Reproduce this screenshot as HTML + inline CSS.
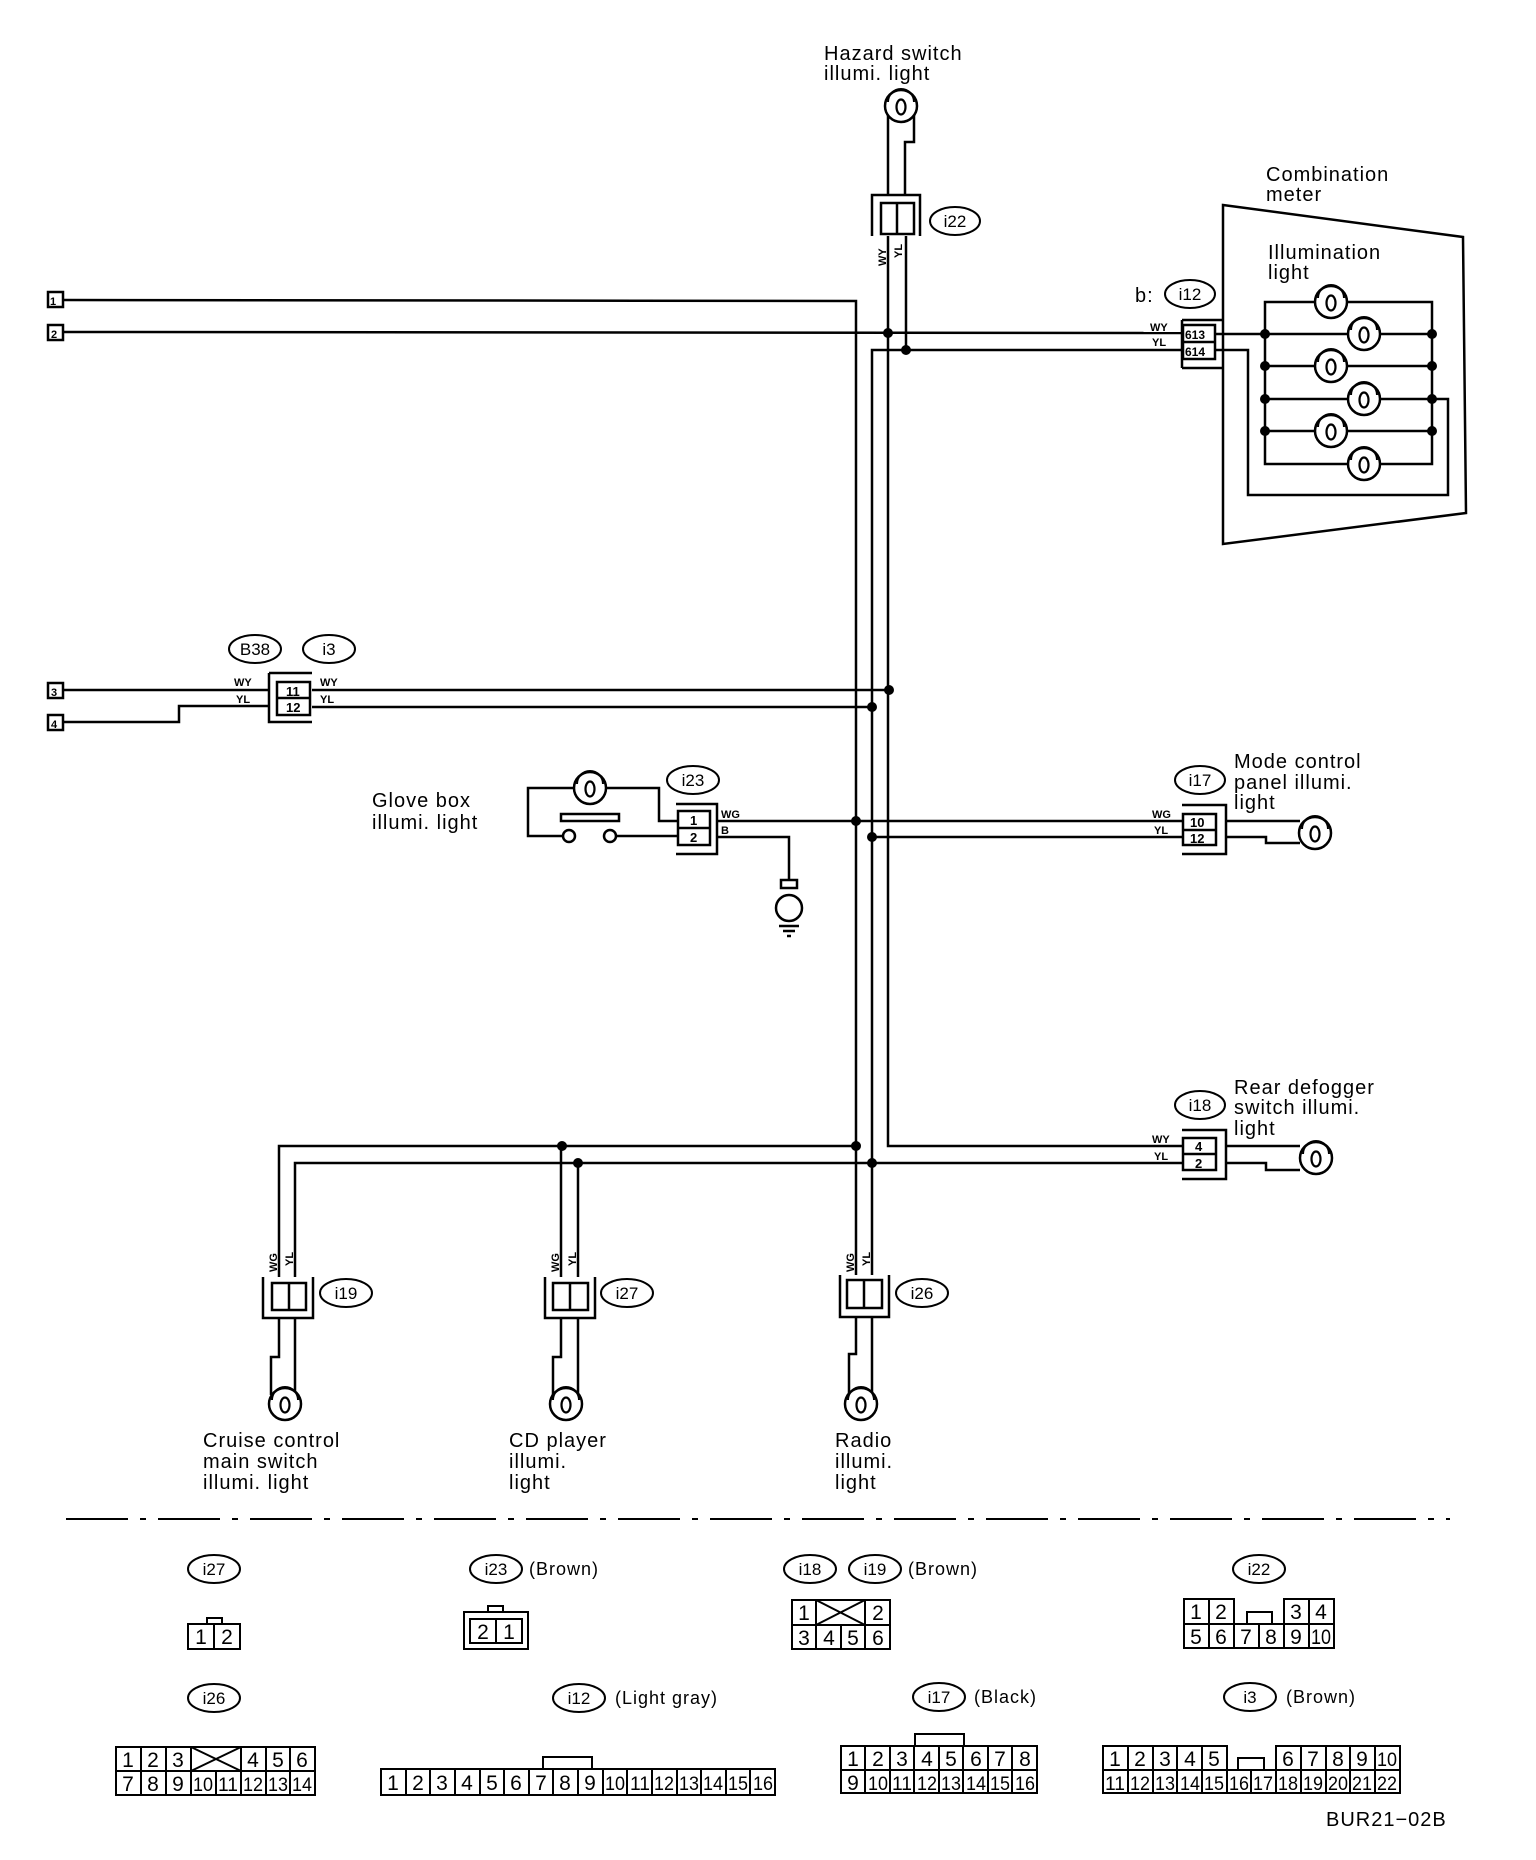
<!DOCTYPE html>
<html><head><meta charset="utf-8"><style>
html,body{margin:0;padding:0;background:#fff;}
svg{display:block}
text{font-family:"Liberation Sans",sans-serif;fill:#000}
.t{font-size:20px;letter-spacing:1px}
.s{font-size:11px;font-weight:bold}
.c{font-size:17px;text-anchor:middle}
.g{font-size:21px;text-anchor:middle}
</style></head><body>
<svg width="1536" height="1860" viewBox="0 0 1536 1860" xmlns="http://www.w3.org/2000/svg">
<defs>
<symbol id="b" overflow="visible">
<circle cx="0" cy="0" r="16" fill="#fff" stroke="#000" stroke-width="2.5"/>
<path d="M-13,-4 A13,13 0 0 1 13,-4" fill="none" stroke="#000" stroke-width="2"/>
<ellipse cx="0" cy="1" rx="4.5" ry="7.5" fill="none" stroke="#000" stroke-width="2.2"/>
</symbol>
</defs>
<g fill="none" stroke="#000" stroke-width="2.5">
<!-- terminals -->
<rect x="48" y="292" width="15" height="15"/><rect x="48" y="325" width="15" height="15"/>
<rect x="48" y="683" width="15" height="15"/><rect x="48" y="715" width="15" height="15"/>
<!-- main wires -->
<polyline points="63,300 856,301 856,1275"/>
<polyline points="63,332 1182,333"/>
<polyline points="1182,350 872,350 872,1275"/>
<polyline points="888,236 888,1146 1182,1146"/>
<polyline points="906,236 906,350"/>
<!-- hazard -->
<polyline points="888,195 888,106"/>
<polyline points="914,106 914,142 905,142 905,195"/>
<polyline points="872,236 872,195 920,195 920,236"/>
<rect x="881" y="203" width="33" height="31"/><line x1="897" y1="203" x2="897" y2="234"/>
<!-- i3 -->
<polyline points="63,690 269,690"/>
<polyline points="63,722 179,722 179,706 269,706"/>
<polyline points="312,690 889,690"/>
<polyline points="312,707 872,707"/>
<polyline points="269,673 312,673"/><polyline points="269,673 269,722 312,722"/>
<rect x="277" y="682" width="33" height="33"/><line x1="277" y1="698" x2="310" y2="698"/>
<!-- glove box -->
<polyline points="574,788 528,788 528,836 563,836"/>
<polyline points="606,788 659,788 659,821 678,821"/>
<polyline points="616,836 678,836"/>
<rect x="561" y="814" width="58" height="7"/>
<circle cx="569" cy="836" r="6"/><circle cx="610" cy="836" r="6"/>
<polyline points="676,804 717,804 717,854 676,854"/>
<rect x="678" y="811" width="32" height="34"/><line x1="678" y1="828" x2="710" y2="828"/>
<polyline points="717,821 1182,821"/>
<polyline points="717,837 789,837 789,880"/>
<polyline points="872,837 1182,837"/>
<rect x="781" y="880" width="16" height="8"/>
<circle cx="789" cy="908" r="13" fill="#fff"/>
<line x1="779" y1="926" x2="799" y2="926"/><line x1="783" y1="931" x2="795" y2="931"/><line x1="787" y1="936" x2="791" y2="936"/>
<!-- i17 -->
<polyline points="1182,805 1226,805 1226,854 1182,854"/>
<rect x="1183" y="814" width="33" height="31"/><line x1="1183" y1="830" x2="1216" y2="830"/>
<polyline points="1226,821 1300,821"/>
<polyline points="1226,837 1266,837 1266,843 1300,843"/>
<!-- i18 -->
<polyline points="1182,1130 1226,1130 1226,1179 1182,1179"/>
<rect x="1183" y="1138" width="33" height="32"/><line x1="1183" y1="1154" x2="1216" y2="1154"/>
<polyline points="1226,1146 1300,1146"/>
<polyline points="1226,1163 1266,1163 1266,1170 1300,1170"/>
<!-- lower -->
<polyline points="856,1146 279,1146 279,1277"/>
<polyline points="1182,1163 295,1163 295,1277"/>
<line x1="561" y1="1146" x2="561" y2="1277"/>
<line x1="578" y1="1163" x2="578" y2="1277"/>
<!-- i19 -->
<polyline points="263,1277 263,1318 313,1318 313,1277"/>
<rect x="272" y="1283" width="34" height="27"/><line x1="289" y1="1283" x2="289" y2="1310"/>
<polyline points="279,1318 279,1357 271,1357 271,1395"/><polyline points="295,1318 295,1400"/>
<!-- i27 -->
<polyline points="545,1277 545,1318 595,1318 595,1277"/>
<rect x="553" y="1283" width="35" height="27"/><line x1="570" y1="1283" x2="570" y2="1310"/>
<polyline points="561,1318 561,1357 553,1357 553,1395"/><polyline points="578,1318 578,1400"/>
<!-- i26 -->
<polyline points="840,1275 840,1317 889,1317 889,1275"/>
<rect x="847" y="1280" width="35" height="28"/><line x1="864" y1="1280" x2="864" y2="1308"/>
<polyline points="856,1317 856,1354 849,1354 849,1395"/><polyline points="872,1317 872,1400"/>
<!-- i12 / meter -->
<polyline points="1182,320 1223,320"/><polyline points="1182,368 1223,368"/>
<line x1="1182" y1="320" x2="1182" y2="368"/>
<rect x="1183" y="325" width="32" height="34"/><line x1="1183" y1="342" x2="1215" y2="342"/>
<polygon points="1223,205 1463,237 1466,513 1223,544"/>
<polyline points="1215,334 1265,334"/>
<polyline points="1215,350 1248,350 1248,495 1448,495 1448,399 1432,399"/>
<rect x="1265" y="302" width="167" height="162"/>
<line x1="1265" y1="334" x2="1432" y2="334"/><line x1="1265" y1="366" x2="1432" y2="366"/>
<line x1="1265" y1="399" x2="1432" y2="399"/><line x1="1265" y1="431" x2="1432" y2="431"/>
<!-- dashed -->
<line x1="66" y1="1519" x2="1450" y2="1519" stroke-dasharray="62 12 6 12" stroke-width="2"/>
</g>
<!-- dots -->
<g fill="#000">
<circle cx="888" cy="333" r="5"/><circle cx="906" cy="350" r="5"/>
<circle cx="889" cy="690" r="5"/><circle cx="872" cy="707" r="5"/>
<circle cx="856" cy="821" r="5"/><circle cx="872" cy="837" r="5"/>
<circle cx="856" cy="1146" r="5"/><circle cx="872" cy="1163" r="5"/>
<circle cx="562" cy="1146" r="5"/><circle cx="578" cy="1163" r="5"/>
<circle cx="1265" cy="334" r="5"/><circle cx="1265" cy="366" r="5"/><circle cx="1265" cy="399" r="5"/><circle cx="1265" cy="431" r="5"/>
<circle cx="1432" cy="334" r="5"/><circle cx="1432" cy="366" r="5"/><circle cx="1432" cy="399" r="5"/><circle cx="1432" cy="431" r="5"/>
</g>
<!-- bulbs -->
<use href="#b" x="901" y="106"/><use href="#b" x="590" y="788"/>
<use href="#b" x="1315" y="833"/><use href="#b" x="1316" y="1158"/>
<use href="#b" x="285" y="1404"/><use href="#b" x="566" y="1404"/><use href="#b" x="861" y="1404"/>
<use href="#b" x="1331" y="302"/><use href="#b" x="1364" y="334"/><use href="#b" x="1331" y="366"/>
<use href="#b" x="1364" y="399"/><use href="#b" x="1331" y="431"/><use href="#b" x="1364" y="464"/>
<!-- ellipse labels -->
<g fill="#fff" stroke="#000" stroke-width="2">
<ellipse cx="955" cy="221" rx="25" ry="14"/><ellipse cx="1190" cy="294" rx="25" ry="14"/>
<ellipse cx="255" cy="649" rx="26" ry="14"/><ellipse cx="329" cy="649" rx="26" ry="14"/>
<ellipse cx="693" cy="780" rx="26" ry="14"/><ellipse cx="1200" cy="780" rx="25" ry="14"/>
<ellipse cx="1200" cy="1105" rx="25" ry="14"/><ellipse cx="346" cy="1293" rx="26" ry="14"/>
<ellipse cx="627" cy="1293" rx="26" ry="14"/><ellipse cx="922" cy="1293" rx="26" ry="14"/>
<ellipse cx="214" cy="1569" rx="26" ry="14"/><ellipse cx="496" cy="1569" rx="26" ry="14"/>
<ellipse cx="810" cy="1569" rx="26" ry="14"/><ellipse cx="875" cy="1569" rx="26" ry="14"/>
<ellipse cx="1259" cy="1569" rx="26" ry="14"/><ellipse cx="214" cy="1698" rx="26" ry="14"/>
<ellipse cx="579" cy="1698" rx="26" ry="14"/><ellipse cx="939" cy="1697" rx="26" ry="14"/>
<ellipse cx="1250" cy="1697" rx="26" ry="14"/>
</g>
<g class="c">
<text x="955" y="227">i22</text><text x="1190" y="300">i12</text>
<text x="255" y="655">B38</text><text x="329" y="655">i3</text>
<text x="693" y="786">i23</text><text x="1200" y="786">i17</text>
<text x="1200" y="1111">i18</text><text x="346" y="1299">i19</text>
<text x="627" y="1299">i27</text><text x="922" y="1299">i26</text>
<text x="214" y="1575">i27</text><text x="496" y="1575">i23</text>
<text x="810" y="1575">i18</text><text x="875" y="1575">i19</text>
<text x="1259" y="1575">i22</text><text x="214" y="1704">i26</text>
<text x="579" y="1704">i12</text><text x="939" y="1703">i17</text>
<text x="1250" y="1703">i3</text>
</g>
<!-- main labels -->
<g class="t">
<text x="824" y="60">Hazard switch</text><text x="824" y="80">illumi. light</text>
<text x="1266" y="181">Combination</text><text x="1266" y="201">meter</text>
<text x="1268" y="259">Illumination</text><text x="1268" y="279">light</text>
<text x="1135" y="302">b:</text>
<text x="372" y="807">Glove box</text><text x="372" y="829">illumi. light</text>
<text x="1234" y="768">Mode control</text><text x="1234" y="789">panel illumi.</text><text x="1234" y="809">light</text>
<text x="1234" y="1094">Rear defogger</text><text x="1234" y="1114">switch illumi.</text><text x="1234" y="1135">light</text>
<text x="203" y="1447">Cruise control</text><text x="203" y="1468">main switch</text><text x="203" y="1489">illumi. light</text>
<text x="509" y="1447">CD player</text><text x="509" y="1468">illumi.</text><text x="509" y="1489">light</text>
<text x="835" y="1447">Radio</text><text x="835" y="1468">illumi.</text><text x="835" y="1489">light</text>
<text x="1326" y="1826">BUR21−02B</text>
<text x="529" y="1575" style="font-size:18px">(Brown)</text>
<text x="908" y="1575" style="font-size:18px">(Brown)</text>
<text x="615" y="1704" style="font-size:18px">(Light gray)</text>
<text x="974" y="1703" style="font-size:18px">(Black)</text>
<text x="1286" y="1703" style="font-size:18px">(Brown)</text>
</g>
<!-- small wire labels -->
<g class="s">
<text x="234" y="686">WY</text><text x="236" y="703">YL</text>
<text x="320" y="686">WY</text><text x="320" y="703">YL</text>
<text x="1150" y="331">WY</text><text x="1152" y="346">YL</text>
<text x="721" y="818">WG</text><text x="721" y="834">B</text>
<text x="1152" y="818">WG</text><text x="1154" y="834">YL</text>
<text x="1152" y="1143">WY</text><text x="1154" y="1160">YL</text>
<text transform="translate(886,266) rotate(-90)">WY</text><text transform="translate(902,258) rotate(-90)">YL</text>
<text transform="translate(277,1272) rotate(-90)">WG</text><text transform="translate(293,1266) rotate(-90)">YL</text>
<text transform="translate(559,1272) rotate(-90)">WG</text><text transform="translate(576,1266) rotate(-90)">YL</text>
<text transform="translate(854,1272) rotate(-90)">WG</text><text transform="translate(870,1266) rotate(-90)">YL</text>
<text x="50" y="305">1</text><text x="51" y="338">2</text><text x="51" y="696">3</text><text x="51" y="728">4</text>
<text x="286" y="696" style="font-size:13px">11</text><text x="286" y="712" style="font-size:13px">12</text>
<text x="690" y="825" style="font-size:13px">1</text><text x="690" y="842" style="font-size:13px">2</text>
<text x="1185" y="339" style="font-size:12px">613</text><text x="1185" y="356" style="font-size:12px">614</text>
<text x="1190" y="827" style="font-size:13px">10</text><text x="1190" y="843" style="font-size:13px">12</text>
<text x="1195" y="1151" style="font-size:13px">4</text><text x="1195" y="1168" style="font-size:13px">2</text>
</g>
<!-- connector diagrams -->
<g fill="none" stroke="#000" stroke-width="2">
<!-- i27 -->
<rect x="188" y="1624" width="52" height="25"/><line x1="214" y1="1624" x2="214" y2="1649"/><rect x="207" y="1618" width="15" height="6"/>
<!-- i23 -->
<rect x="464" y="1612" width="64" height="37"/><rect x="470" y="1619" width="52" height="24"/><line x1="496" y1="1619" x2="496" y2="1643"/><rect x="488" y="1606" width="15" height="6"/>
<!-- i18/i19 -->
<rect x="792" y="1600" width="98" height="49"/><line x1="792" y1="1625" x2="890" y2="1625"/>
<line x1="816" y1="1600" x2="816" y2="1649"/><line x1="841" y1="1625" x2="841" y2="1649"/><line x1="865" y1="1600" x2="865" y2="1649"/>
<line x1="816" y1="1600" x2="865" y2="1625"/><line x1="816" y1="1625" x2="865" y2="1600"/>
<!-- i22 -->
<rect x="1184" y="1599" width="50" height="25"/><line x1="1209" y1="1599" x2="1209" y2="1624"/>
<rect x="1284" y="1599" width="50" height="25"/><line x1="1309" y1="1599" x2="1309" y2="1624"/>
<rect x="1184" y="1624" width="150" height="24"/>
<line x1="1209" y1="1624" x2="1209" y2="1648"/><line x1="1234" y1="1624" x2="1234" y2="1648"/><line x1="1259" y1="1624" x2="1259" y2="1648"/><line x1="1284" y1="1624" x2="1284" y2="1648"/><line x1="1309" y1="1624" x2="1309" y2="1648"/>
<polyline points="1247,1624 1247,1612 1272,1612 1272,1624"/>
<!-- i26 -->
<rect x="116" y="1747" width="199" height="48"/><line x1="116" y1="1771" x2="315" y2="1771"/>
<line x1="141" y1="1747" x2="141" y2="1795"/><line x1="166" y1="1747" x2="166" y2="1795"/><line x1="191" y1="1747" x2="191" y2="1795"/>
<line x1="216" y1="1771" x2="216" y2="1795"/><line x1="241" y1="1747" x2="241" y2="1795"/><line x1="266" y1="1747" x2="266" y2="1795"/><line x1="290" y1="1747" x2="290" y2="1795"/>
<line x1="191" y1="1747" x2="241" y2="1771"/><line x1="191" y1="1771" x2="241" y2="1747"/>
<!-- i12 -->
<rect x="381" y="1769" width="394" height="26"/>
<line x1="406" y1="1769" x2="406" y2="1795"/><line x1="430" y1="1769" x2="430" y2="1795"/><line x1="455" y1="1769" x2="455" y2="1795"/><line x1="480" y1="1769" x2="480" y2="1795"/><line x1="504" y1="1769" x2="504" y2="1795"/><line x1="529" y1="1769" x2="529" y2="1795"/><line x1="553" y1="1769" x2="553" y2="1795"/><line x1="578" y1="1769" x2="578" y2="1795"/><line x1="603" y1="1769" x2="603" y2="1795"/><line x1="627" y1="1769" x2="627" y2="1795"/><line x1="652" y1="1769" x2="652" y2="1795"/><line x1="677" y1="1769" x2="677" y2="1795"/><line x1="701" y1="1769" x2="701" y2="1795"/><line x1="726" y1="1769" x2="726" y2="1795"/><line x1="750" y1="1769" x2="750" y2="1795"/>
<polyline points="543,1769 543,1757 592,1757 592,1769"/>
<!-- i17 -->
<rect x="841" y="1746" width="196" height="47"/><line x1="841" y1="1770" x2="1037" y2="1770"/>
<line x1="865" y1="1746" x2="865" y2="1793"/><line x1="890" y1="1746" x2="890" y2="1793"/><line x1="914" y1="1746" x2="914" y2="1793"/><line x1="939" y1="1746" x2="939" y2="1793"/><line x1="963" y1="1746" x2="963" y2="1793"/><line x1="988" y1="1746" x2="988" y2="1793"/><line x1="1012" y1="1746" x2="1012" y2="1793"/>
<polyline points="915,1746 915,1734 964,1734 964,1746"/>
<!-- i3 -->
<rect x="1103" y="1746" width="124" height="24"/><rect x="1276" y="1746" width="124" height="24"/>
<rect x="1103" y="1770" width="297" height="23"/>
<line x1="1128" y1="1746" x2="1128" y2="1793"/><line x1="1153" y1="1746" x2="1153" y2="1793"/><line x1="1177" y1="1746" x2="1177" y2="1793"/><line x1="1202" y1="1746" x2="1202" y2="1793"/><line x1="1227" y1="1770" x2="1227" y2="1793"/><line x1="1251" y1="1770" x2="1251" y2="1793"/><line x1="1276" y1="1770" x2="1276" y2="1793"/><line x1="1301" y1="1746" x2="1301" y2="1793"/><line x1="1326" y1="1746" x2="1326" y2="1793"/><line x1="1350" y1="1746" x2="1350" y2="1793"/><line x1="1375" y1="1746" x2="1375" y2="1793"/>
<polyline points="1238,1770 1238,1758 1264,1758 1264,1770"/>
</g>
<g class="g">
<text x="201" y="1644">1</text><text x="227" y="1644">2</text>
<text x="483" y="1639">2</text><text x="509" y="1639">1</text>
<text x="804" y="1620">1</text><text x="878" y="1620">2</text>
<text x="804" y="1645">3</text><text x="829" y="1645">4</text><text x="853" y="1645">5</text><text x="878" y="1645">6</text>
<text x="1196" y="1619">1</text><text x="1221" y="1619">2</text><text x="1296" y="1619">3</text><text x="1321" y="1619">4</text>
<text x="1196" y="1644">5</text><text x="1221" y="1644">6</text><text x="1246" y="1644">7</text><text x="1271" y="1644">8</text><text x="1296" y="1644">9</text><text x="1321" y="1644" textLength="20" lengthAdjust="spacingAndGlyphs">10</text>
<text x="128" y="1767">1</text><text x="153" y="1767">2</text><text x="178" y="1767">3</text><text x="253" y="1767">4</text><text x="278" y="1767">5</text><text x="302" y="1767">6</text>
<text x="128" y="1791">7</text><text x="153" y="1791">8</text><text x="178" y="1791">9</text>
</g>
<g class="g" style="font-size:19px" lengthAdjust="spacingAndGlyphs">
<text x="203" y="1791" textLength="20" lengthAdjust="spacingAndGlyphs">10</text><text x="228" y="1791" textLength="20" lengthAdjust="spacingAndGlyphs">11</text><text x="253" y="1791" textLength="20" lengthAdjust="spacingAndGlyphs">12</text><text x="278" y="1791" textLength="20" lengthAdjust="spacingAndGlyphs">13</text><text x="302" y="1791" textLength="20" lengthAdjust="spacingAndGlyphs">14</text>
</g>
<g class="g">
<text x="393" y="1790">1</text><text x="418" y="1790">2</text><text x="442" y="1790">3</text><text x="467" y="1790">4</text><text x="492" y="1790">5</text><text x="516" y="1790">6</text><text x="541" y="1790">7</text><text x="565" y="1790">8</text><text x="590" y="1790">9</text>
</g>
<g class="g" style="font-size:19px">
<text x="615" y="1790" textLength="20" lengthAdjust="spacingAndGlyphs">10</text><text x="640" y="1790" textLength="20" lengthAdjust="spacingAndGlyphs">11</text><text x="664" y="1790" textLength="20" lengthAdjust="spacingAndGlyphs">12</text><text x="689" y="1790" textLength="20" lengthAdjust="spacingAndGlyphs">13</text><text x="713" y="1790" textLength="20" lengthAdjust="spacingAndGlyphs">14</text><text x="738" y="1790" textLength="20" lengthAdjust="spacingAndGlyphs">15</text><text x="763" y="1790" textLength="20" lengthAdjust="spacingAndGlyphs">16</text>
</g>
<g class="g">
<text x="853" y="1766">1</text><text x="878" y="1766">2</text><text x="902" y="1766">3</text><text x="927" y="1766">4</text><text x="951" y="1766">5</text><text x="976" y="1766">6</text><text x="1000" y="1766">7</text><text x="1025" y="1766">8</text>
<text x="853" y="1790">9</text>
<text x="1115" y="1766">1</text><text x="1140" y="1766">2</text><text x="1165" y="1766">3</text><text x="1190" y="1766">4</text><text x="1214" y="1766">5</text>
<text x="1288" y="1766">6</text><text x="1313" y="1766">7</text><text x="1338" y="1766">8</text><text x="1362" y="1766">9</text>
</g>
<g class="g" style="font-size:19px">
<text x="878" y="1790" textLength="20" lengthAdjust="spacingAndGlyphs">10</text><text x="902" y="1790" textLength="20" lengthAdjust="spacingAndGlyphs">11</text><text x="927" y="1790" textLength="20" lengthAdjust="spacingAndGlyphs">12</text><text x="951" y="1790" textLength="20" lengthAdjust="spacingAndGlyphs">13</text><text x="976" y="1790" textLength="20" lengthAdjust="spacingAndGlyphs">14</text><text x="1000" y="1790" textLength="20" lengthAdjust="spacingAndGlyphs">15</text><text x="1025" y="1790" textLength="20" lengthAdjust="spacingAndGlyphs">16</text>
<text x="1387" y="1766" textLength="20" lengthAdjust="spacingAndGlyphs">10</text>
<text x="1115" y="1790" textLength="20" lengthAdjust="spacingAndGlyphs">11</text><text x="1140" y="1790" textLength="20" lengthAdjust="spacingAndGlyphs">12</text><text x="1165" y="1790" textLength="20" lengthAdjust="spacingAndGlyphs">13</text><text x="1190" y="1790" textLength="20" lengthAdjust="spacingAndGlyphs">14</text><text x="1214" y="1790" textLength="20" lengthAdjust="spacingAndGlyphs">15</text><text x="1239" y="1790" textLength="20" lengthAdjust="spacingAndGlyphs">16</text><text x="1263" y="1790" textLength="20" lengthAdjust="spacingAndGlyphs">17</text><text x="1288" y="1790" textLength="20" lengthAdjust="spacingAndGlyphs">18</text><text x="1313" y="1790" textLength="20" lengthAdjust="spacingAndGlyphs">19</text><text x="1338" y="1790" textLength="20" lengthAdjust="spacingAndGlyphs">20</text><text x="1362" y="1790" textLength="20" lengthAdjust="spacingAndGlyphs">21</text><text x="1387" y="1790" textLength="20" lengthAdjust="spacingAndGlyphs">22</text>
</g>
</svg>
</body></html>
